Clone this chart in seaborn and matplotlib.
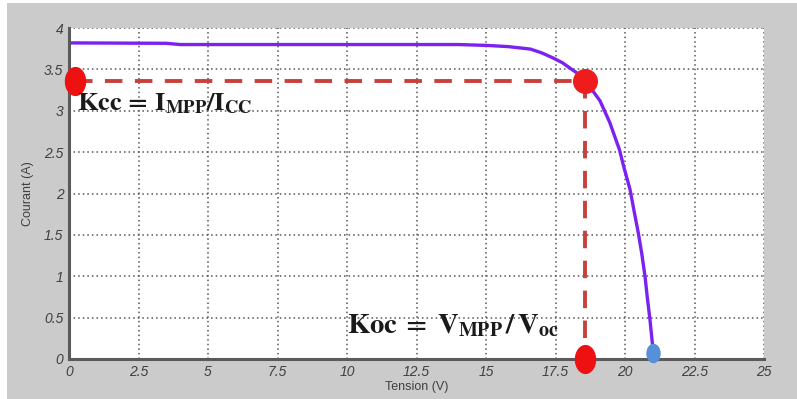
import numpy as np
import matplotlib
matplotlib.use("Agg")
import matplotlib.pyplot as plt
import seaborn as sns
from matplotlib.path import Path
from matplotlib.transforms import Affine2D
from matplotlib.patches import Rectangle

# ---- data ----
tension = [0, 3.5, 4.0, 7.5, 10, 12.5, 14, 15, 15.8, 16.6, 17.0, 17.4, 17.75,
           18.0, 18.3, 18.55, 18.8, 19.1, 19.45, 19.8, 19.95, 20.18, 20.32,
           20.48, 20.6, 20.72, 20.8, 20.9, 21.02]
courant = [3.82, 3.815, 3.80, 3.80, 3.80, 3.80, 3.80, 3.79, 3.775, 3.745, 3.70,
           3.64, 3.58, 3.52, 3.45, 3.37, 3.26, 3.12, 2.86, 2.53, 2.33, 2.05,
           1.80, 1.52, 1.28, 1.0, 0.75, 0.47, 0.07]
v_mpp = 18.55
i_mpp = 3.36
i_start_x = 0.22
v_oc = 21.02
i_oc = 0.07
xticks = [0, 2.5, 5, 7.5, 10, 12.5, 15, 17.5, 20, 22.5, 25]
xticklabels = ["0", "2.5", "5", "7.5", "10", "12.5", "15", "17.5", "20", "22.5", "25"]
yticks = [0, 0.5, 1, 1.5, 2, 2.5, 3, 3.5, 4]
yticklabels = ["0", "0.5", "1", "1.5", "2", "2.5", "3", "3.5", "4"]

sns.set_style("white")
plt.rcParams['font.family'] = ['Liberation Sans', 'DejaVu Sans']
plt.rcParams['mathtext.fontset'] = 'stix'

bg = '#cbcbcb'
fig = plt.figure(figsize=(7.97, 3.99), dpi=100, facecolor=bg)
ax = fig.add_axes([69/797, 1-359/399, (764-69)/797, (359-28)/399])
ax.set_facecolor('white')

# white border strips of the original image
fig.patches.append(Rectangle((0, 0), 7/797, 1, transform=fig.transFigure,
                             facecolor='white', edgecolor='none', zorder=-1))
fig.patches.append(Rectangle((0, 1-3/399), 1, 3/399, transform=fig.transFigure,
                             facecolor='white', edgecolor='none', zorder=-1))

ax.set_xlim(0, 25)
ax.set_ylim(0, 4)

# grid
for xv in xticks[1:]:
    ax.axvline(xv, color='#555555', lw=1.1, ls=(0, (1, 2.0)), zorder=1)
for yv in yticks[1:]:
    ax.axhline(yv, color='#555555', lw=1.1, ls=(0, (1, 2.0)), zorder=1)

# IV curve
sns.lineplot(x=tension, y=courant, ax=ax, color='#7b22f0', lw=2.4,
             sort=False, estimator=None, zorder=3)

# dashed guides
red = '#c8403c'
ax.plot([i_start_x, v_mpp], [i_mpp, i_mpp], color=red, lw=2.8,
        ls=(0, (4.5, 3.2)), zorder=2)
ax.plot([v_mpp, v_mpp], [i_mpp, 0], color=red, lw=2.8,
        ls=(0, (4.5, 3.2)), zorder=2)

# markers
ell = Path.unit_circle().transformed(Affine2D().scale(0.72, 1.0))
ax.plot([i_start_x], [i_mpp], marker=ell, ms=20, color='#ee1111', ls='none',
        zorder=5, clip_on=False)
ax.plot([v_mpp], [i_mpp], marker='o', ms=17, color='#ee1c1c', ls='none',
        zorder=5, clip_on=False)
ax.plot([v_mpp], [0], marker=ell, ms=20, color='#ee1111', ls='none',
        zorder=5, clip_on=False)
ax.plot([v_oc], [i_oc], marker=ell, ms=13, color='#5590d8', ls='none',
        zorder=5, clip_on=False)

# spines
for s in ['top', 'right']:
    ax.spines[s].set_visible(False)
for s in ['left', 'bottom']:
    ax.spines[s].set_color('#5a5a5a')
    ax.spines[s].set_linewidth(2.2)
ax.spines['left'].set_zorder(4)
ax.spines['bottom'].set_zorder(4)

ax.set_xticks(xticks)
ax.set_xticklabels(xticklabels)
ax.set_yticks(yticks)
ax.set_yticklabels(yticklabels)
ax.tick_params(axis='both', direction='in', length=4, width=1.2, color='#5a5a5a',
               labelsize=10, labelcolor='#404040', pad=4)
for lab in ax.get_xticklabels() + ax.get_yticklabels():
    lab.set_fontstyle('italic')

ax.set_xlabel('Tension (V)', fontsize=9, color='#404040', labelpad=2)
ax.set_ylabel('Courant (A)', fontsize=9, color='#404040', labelpad=7)

# annotations
ax.text(0.3, 3.08, r'$\mathbf{Kcc}\,\mathbf{=}\,\mathbf{I}_{\mathbf{MPP}}\mathbf{/I}_{\mathbf{CC}}$',
        fontsize=19, color='#1a1a1a', ha='left', va='center', zorder=6)
ax.text(10.0, 0.40, r'$\mathbf{Koc}\;\mathbf{=}\;\mathbf{V}_{\mathbf{MPP}}\,\mathbf{/}\,\mathbf{V}_{\mathbf{oc}}$',
        fontsize=20.5, color='#1a1a1a', ha='left', va='center', zorder=6)

fig.savefig('out.png', dpi=100, facecolor=bg)
